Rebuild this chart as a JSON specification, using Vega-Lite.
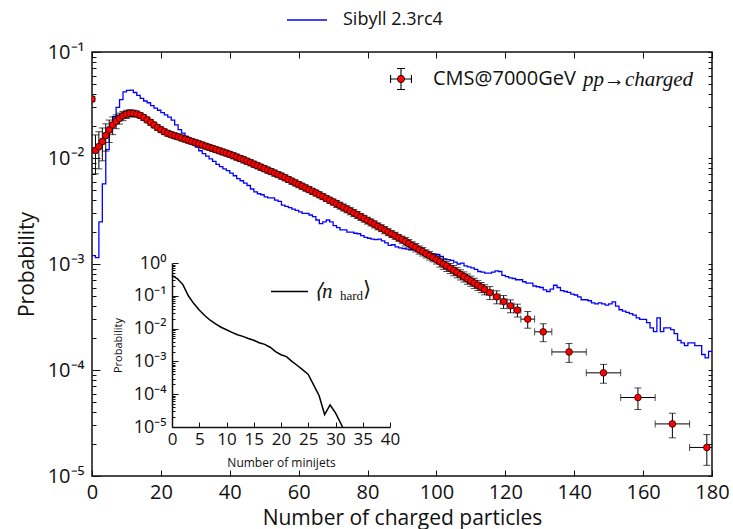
{
"$schema": "https://vega.github.io/schema/vega-lite/v6.json",
"width": 620, "height": 424,
"autosize": {"type": "none"},
"padding": {"left": 92, "top": 52, "right": 21, "bottom": 53},
"background": "white",
"config": {"view": {"stroke": "#111", "strokeWidth": 1.5}, "font": "Open Sans", "axis": {"grid": false, "labelColor": "#111", "titleColor": "#111", "tickColor": "#111", "domainColor": "#111", "titleFontWeight": "normal", "labelFlush": false, "labelOverlap": false}, "legend": {"padding": 0, "labelColor": "#111"}},
"datasets": {
"cms": [
{"x":0,"y":0.036,"ylo":0.0342,"yhi":0.0378,"xlo":-0.5,"xhi":0.5},
{"x":1,"y":0.0118,"ylo":0.0071,"yhi":0.0165,"xlo":0.5,"xhi":1.5},
{"x":2,"y":0.0128,"ylo":0.0079,"yhi":0.0177,"xlo":1.5,"xhi":2.5},
{"x":3,"y":0.0143,"ylo":0.0094,"yhi":0.0192,"xlo":2.5,"xhi":3.5},
{"x":4,"y":0.0163,"ylo":0.0116,"yhi":0.0210,"xlo":3.5,"xhi":4.5},
{"x":5,"y":0.0184,"ylo":0.0140,"yhi":0.0228,"xlo":4.5,"xhi":5.5},
{"x":6,"y":0.0205,"ylo":0.0166,"yhi":0.0244,"xlo":5.5,"xhi":6.5},
{"x":7,"y":0.0222,"ylo":0.0189,"yhi":0.0255,"xlo":6.5,"xhi":7.5},
{"x":8,"y":0.0237,"ylo":0.0209,"yhi":0.0265,"xlo":7.5,"xhi":8.5},
{"x":9,"y":0.0250,"ylo":0.0225,"yhi":0.0275,"xlo":8.5,"xhi":9.5},
{"x":10,"y":0.0259,"ylo":0.0236,"yhi":0.0282,"xlo":9.5,"xhi":10.5},
{"x":11,"y":0.0264,"ylo":0.0243,"yhi":0.0285,"xlo":10.5,"xhi":11.5},
{"x":12,"y":0.0264,"ylo":0.0246,"yhi":0.0282,"xlo":11.5,"xhi":12.5},
{"x":13,"y":0.0260,"ylo":0.0243,"yhi":0.0277,"xlo":12.5,"xhi":13.5},
{"x":14,"y":0.0252,"ylo":0.0237,"yhi":0.0267,"xlo":13.5,"xhi":14.5},
{"x":15,"y":0.0241,"ylo":0.02265,"yhi":0.02555,"xlo":14.5,"xhi":15.5},
{"x":16,"y":0.0229,"ylo":0.02153,"yhi":0.02427,"xlo":15.5,"xhi":16.5},
{"x":17,"y":0.0217,"ylo":0.02040,"yhi":0.02300,"xlo":16.5,"xhi":17.5},
{"x":18,"y":0.0205,"ylo":0.01927,"yhi":0.02173,"xlo":17.5,"xhi":18.5},
{"x":19,"y":0.0194,"ylo":0.01824,"yhi":0.02056,"xlo":18.5,"xhi":19.5},
{"x":20,"y":0.0185,"ylo":0.01739,"yhi":0.01961,"xlo":19.5,"xhi":20.5},
{"x":21,"y":0.0177,"ylo":0.01664,"yhi":0.01876,"xlo":20.5,"xhi":21.5},
{"x":22,"y":0.0171,"ylo":0.01607,"yhi":0.01813,"xlo":21.5,"xhi":22.5},
{"x":23,"y":0.0166,"ylo":0.01560,"yhi":0.01760,"xlo":22.5,"xhi":23.5},
{"x":24,"y":0.0162,"ylo":0.01523,"yhi":0.01717,"xlo":23.5,"xhi":24.5},
{"x":25,"y":0.01585,"ylo":0.01490,"yhi":0.01680,"xlo":24.5,"xhi":25.5},
{"x":26,"y":0.01545,"ylo":0.01452,"yhi":0.01638,"xlo":25.5,"xhi":26.5},
{"x":27,"y":0.01507,"ylo":0.01417,"yhi":0.01597,"xlo":26.5,"xhi":27.5},
{"x":28,"y":0.01469,"ylo":0.01381,"yhi":0.01557,"xlo":27.5,"xhi":28.5},
{"x":29,"y":0.01432,"ylo":0.01346,"yhi":0.01518,"xlo":28.5,"xhi":29.5},
{"x":30,"y":0.01396,"ylo":0.01312,"yhi":0.01480,"xlo":29.5,"xhi":30.5},
{"x":31,"y":0.01361,"ylo":0.01279,"yhi":0.01443,"xlo":30.5,"xhi":31.5},
{"x":32,"y":0.01327,"ylo":0.01247,"yhi":0.01407,"xlo":31.5,"xhi":32.5},
{"x":33,"y":0.01294,"ylo":0.01216,"yhi":0.01372,"xlo":32.5,"xhi":33.5},
{"x":34,"y":0.01262,"ylo":0.01186,"yhi":0.01338,"xlo":33.5,"xhi":34.5},
{"x":35,"y":0.01230,"ylo":0.01156,"yhi":0.01304,"xlo":34.5,"xhi":35.5},
{"x":36,"y":0.01199,"ylo":0.01127,"yhi":0.01271,"xlo":35.5,"xhi":36.5},
{"x":37,"y":0.01169,"ylo":0.01099,"yhi":0.01239,"xlo":36.5,"xhi":37.5},
{"x":38,"y":0.01140,"ylo":0.01072,"yhi":0.01208,"xlo":37.5,"xhi":38.5},
{"x":39,"y":0.01112,"ylo":0.01045,"yhi":0.01179,"xlo":38.5,"xhi":39.5},
{"x":40,"y":0.01084,"ylo":0.01019,"yhi":0.01149,"xlo":39.5,"xhi":40.5},
{"x":41,"y":0.01052,"ylo":0.00984,"yhi":0.01120,"xlo":40.5,"xhi":41.5},
{"x":42,"y":0.01021,"ylo":0.00955,"yhi":0.01087,"xlo":41.5,"xhi":42.5},
{"x":43,"y":0.00991,"ylo":0.00927,"yhi":0.01055,"xlo":42.5,"xhi":43.5},
{"x":44,"y":0.00962,"ylo":0.00899,"yhi":0.01025,"xlo":43.5,"xhi":44.5},
{"x":45,"y":0.00933,"ylo":0.00872,"yhi":0.00994,"xlo":44.5,"xhi":45.5},
{"x":46,"y":0.00904,"ylo":0.00845,"yhi":0.00963,"xlo":45.5,"xhi":46.5},
{"x":47,"y":0.00875,"ylo":0.00818,"yhi":0.00932,"xlo":46.5,"xhi":47.5},
{"x":48,"y":0.00847,"ylo":0.00792,"yhi":0.00902,"xlo":47.5,"xhi":48.5},
{"x":49,"y":0.00820,"ylo":0.00767,"yhi":0.00873,"xlo":48.5,"xhi":49.5},
{"x":50,"y":0.00794,"ylo":0.00742,"yhi":0.00846,"xlo":49.5,"xhi":50.5},
{"x":51,"y":0.00769,"ylo":0.00719,"yhi":0.00819,"xlo":50.5,"xhi":51.5},
{"x":52,"y":0.00745,"ylo":0.00697,"yhi":0.00793,"xlo":51.5,"xhi":52.5},
{"x":53,"y":0.00721,"ylo":0.00674,"yhi":0.00768,"xlo":52.5,"xhi":53.5},
{"x":54,"y":0.00698,"ylo":0.00653,"yhi":0.00743,"xlo":53.5,"xhi":54.5},
{"x":55,"y":0.00676,"ylo":0.00632,"yhi":0.00720,"xlo":54.5,"xhi":55.5},
{"x":56,"y":0.00652,"ylo":0.00610,"yhi":0.00694,"xlo":55.5,"xhi":56.5},
{"x":57,"y":0.00628,"ylo":0.00587,"yhi":0.00669,"xlo":56.5,"xhi":57.5},
{"x":58,"y":0.00605,"ylo":0.00566,"yhi":0.00644,"xlo":57.5,"xhi":58.5},
{"x":59,"y":0.00583,"ylo":0.00545,"yhi":0.00621,"xlo":58.5,"xhi":59.5},
{"x":60,"y":0.00562,"ylo":0.00525,"yhi":0.00599,"xlo":59.5,"xhi":60.5},
{"x":61,"y":0.00542,"ylo":0.00507,"yhi":0.00577,"xlo":60.5,"xhi":61.5},
{"x":62,"y":0.00522,"ylo":0.00488,"yhi":0.00556,"xlo":61.5,"xhi":62.5},
{"x":63,"y":0.00504,"ylo":0.00471,"yhi":0.00537,"xlo":62.5,"xhi":63.5},
{"x":64,"y":0.00485,"ylo":0.00453,"yhi":0.00517,"xlo":63.5,"xhi":64.5},
{"x":65,"y":0.00468,"ylo":0.00438,"yhi":0.00498,"xlo":64.5,"xhi":65.5},
{"x":66,"y":0.00450,"ylo":0.00421,"yhi":0.00479,"xlo":65.5,"xhi":66.5},
{"x":67,"y":0.00433,"ylo":0.00405,"yhi":0.00461,"xlo":66.5,"xhi":67.5},
{"x":68,"y":0.00416,"ylo":0.00389,"yhi":0.00443,"xlo":67.5,"xhi":68.5},
{"x":69,"y":0.00400,"ylo":0.00374,"yhi":0.00426,"xlo":68.5,"xhi":69.5},
{"x":70,"y":0.00385,"ylo":0.00360,"yhi":0.00410,"xlo":69.5,"xhi":70.5},
{"x":71,"y":0.00370,"ylo":0.00342,"yhi":0.00398,"xlo":70.5,"xhi":71.5},
{"x":72,"y":0.00356,"ylo":0.00329,"yhi":0.00383,"xlo":71.5,"xhi":72.5},
{"x":73,"y":0.00342,"ylo":0.00316,"yhi":0.00368,"xlo":72.5,"xhi":73.5},
{"x":74,"y":0.00329,"ylo":0.00304,"yhi":0.00354,"xlo":73.5,"xhi":74.5},
{"x":75,"y":0.00316,"ylo":0.00292,"yhi":0.00340,"xlo":74.5,"xhi":75.5},
{"x":76,"y":0.00303,"ylo":0.00280,"yhi":0.00326,"xlo":75.5,"xhi":76.5},
{"x":77,"y":0.00291,"ylo":0.00269,"yhi":0.00313,"xlo":76.5,"xhi":77.5},
{"x":78,"y":0.00279,"ylo":0.00258,"yhi":0.00300,"xlo":77.5,"xhi":78.5},
{"x":79,"y":0.00268,"ylo":0.00248,"yhi":0.00288,"xlo":78.5,"xhi":79.5},
{"x":80,"y":0.00257,"ylo":0.00238,"yhi":0.00276,"xlo":79.5,"xhi":80.5},
{"x":81,"y":0.00247,"ylo":0.00228,"yhi":0.00266,"xlo":80.5,"xhi":81.5},
{"x":82,"y":0.00237,"ylo":0.00219,"yhi":0.00255,"xlo":81.5,"xhi":82.5},
{"x":83,"y":0.00227,"ylo":0.00210,"yhi":0.00244,"xlo":82.5,"xhi":83.5},
{"x":84,"y":0.00218,"ylo":0.00202,"yhi":0.00234,"xlo":83.5,"xhi":84.5},
{"x":85,"y":0.00209,"ylo":0.00193,"yhi":0.00225,"xlo":84.5,"xhi":85.5},
{"x":86,"y":0.00200,"ylo":0.00185,"yhi":0.00215,"xlo":85.5,"xhi":86.5},
{"x":87,"y":0.00192,"ylo":0.00178,"yhi":0.00206,"xlo":86.5,"xhi":87.5},
{"x":88,"y":0.00185,"ylo":0.00171,"yhi":0.00199,"xlo":87.5,"xhi":88.5},
{"x":89,"y":0.00177,"ylo":0.00164,"yhi":0.00190,"xlo":88.5,"xhi":89.5},
{"x":90,"y":0.00170,"ylo":0.00157,"yhi":0.00183,"xlo":89.5,"xhi":90.5},
{"x":91,"y":0.00163,"ylo":0.00148,"yhi":0.00178,"xlo":90.5,"xhi":91.5},
{"x":92,"y":0.00156,"ylo":0.00142,"yhi":0.00170,"xlo":91.5,"xhi":92.5},
{"x":93,"y":0.00149,"ylo":0.00136,"yhi":0.00162,"xlo":92.5,"xhi":93.5},
{"x":94,"y":0.00143,"ylo":0.00130,"yhi":0.00156,"xlo":93.5,"xhi":94.5},
{"x":95,"y":0.00136,"ylo":0.00124,"yhi":0.00148,"xlo":94.5,"xhi":95.5},
{"x":96,"y":0.00131,"ylo":0.00119,"yhi":0.00143,"xlo":95.5,"xhi":96.5},
{"x":97,"y":0.00125,"ylo":0.00114,"yhi":0.00136,"xlo":96.5,"xhi":97.5},
{"x":98,"y":0.00120,"ylo":0.00109,"yhi":0.00131,"xlo":97.5,"xhi":98.5},
{"x":99,"y":0.00115,"ylo":0.00105,"yhi":0.00125,"xlo":98.5,"xhi":99.5},
{"x":100,"y":0.00110,"ylo":0.00100,"yhi":0.00120,"xlo":99.5,"xhi":100.5},
{"x":101,"y":0.00105,"ylo":0.000935,"yhi":0.001166,"xlo":100.5,"xhi":101.5},
{"x":102,"y":0.00100,"ylo":0.00089,"yhi":0.00111,"xlo":101.5,"xhi":102.5},
{"x":103,"y":0.000955,"ylo":0.000850,"yhi":0.001060,"xlo":102.5,"xhi":103.5},
{"x":104,"y":0.000912,"ylo":0.000812,"yhi":0.001012,"xlo":103.5,"xhi":104.5},
{"x":105,"y":0.000871,"ylo":0.000775,"yhi":0.000967,"xlo":104.5,"xhi":105.5},
{"x":106,"y":0.000832,"ylo":0.000740,"yhi":0.000924,"xlo":105.5,"xhi":106.5},
{"x":107,"y":0.000794,"ylo":0.000707,"yhi":0.000881,"xlo":106.5,"xhi":107.5},
{"x":108,"y":0.000759,"ylo":0.000676,"yhi":0.000842,"xlo":107.5,"xhi":108.5},
{"x":109,"y":0.000724,"ylo":0.000644,"yhi":0.000804,"xlo":108.5,"xhi":109.5},
{"x":110,"y":0.000692,"ylo":0.000616,"yhi":0.000768,"xlo":109.5,"xhi":110.5},
{"x":111,"y":0.000661,"ylo":0.000588,"yhi":0.000734,"xlo":110.5,"xhi":111.5},
{"x":112,"y":0.000631,"ylo":0.000562,"yhi":0.000700,"xlo":111.5,"xhi":112.5},
{"x":113,"y":0.000603,"ylo":0.000537,"yhi":0.000669,"xlo":112.5,"xhi":113.5},
{"x":114,"y":0.000575,"ylo":0.000512,"yhi":0.000638,"xlo":113.5,"xhi":114.5},
{"x":115.5,"y":0.000537,"ylo":0.000462,"yhi":0.000612,"xlo":114.5,"xhi":116.5},
{"x":117.5,"y":0.000490,"ylo":0.000421,"yhi":0.000559,"xlo":116.5,"xhi":118.5},
{"x":119.5,"y":0.000442,"ylo":0.000380,"yhi":0.000504,"xlo":118.5,"xhi":120.5},
{"x":121.5,"y":0.000403,"ylo":0.000347,"yhi":0.000459,"xlo":120.5,"xhi":122.5},
{"x":123.5,"y":0.000367,"ylo":0.000316,"yhi":0.000418,"xlo":122.5,"xhi":124.5},
{"x":126.5,"y":0.000302,"ylo":0.000248,"yhi":0.000356,"xlo":124.5,"xhi":128.5},
{"x":131,"y":0.000229,"ylo":0.000185,"yhi":0.000273,"xlo":128.5,"xhi":133.5},
{"x":138.5,"y":0.000148,"ylo":0.000118,"yhi":0.000178,"xlo":133.5,"xhi":143.5},
{"x":148.5,"y":0.000094,"ylo":0.000075,"yhi":0.000113,"xlo":143.5,"xhi":153.5},
{"x":158.5,"y":0.000055,"ylo":0.0000424,"yhi":0.0000677,"xlo":153.5,"xhi":163.5},
{"x":168.5,"y":0.000031,"ylo":0.0000229,"yhi":0.0000391,"xlo":163.5,"xhi":173.5},
{"x":178.5,"y":0.0000186,"ylo":0.0000126,"yhi":0.0000246,"xlo":173.5,"xhi":183.5}
],
"sib": [
{"x":0,"p":0.0012},{"x":1,"p":0.00115},{"x":2,"p":0.0025},{"x":3,"p":0.0057},{"x":4,"p":0.012},{"x":5,"p":0.0195},{"x":6,"p":0.0245},{"x":7,"p":0.030},{"x":8,"p":0.0355},{"x":9,"p":0.042},
{"x":10,"p":0.0435},{"x":11,"p":0.0437},{"x":12,"p":0.0415},{"x":13,"p":0.039},{"x":14,"p":0.0365},{"x":15,"p":0.0345},{"x":16,"p":0.0332},{"x":17,"p":0.0312},{"x":18,"p":0.0295},{"x":19,"p":0.0282},
{"x":20,"p":0.0268},{"x":21,"p":0.0255},{"x":22,"p":0.0243},{"x":23,"p":0.0228},{"x":24,"p":0.0205},{"x":25,"p":0.0185},{"x":26,"p":0.0172},{"x":27,"p":0.0160},{"x":28,"p":0.0150},{"x":29,"p":0.0137},
{"x":30,"p":0.0127},{"x":31,"p":0.0117},{"x":32,"p":0.0110},{"x":33,"p":0.0104},{"x":34,"p":0.0098},{"x":35,"p":0.0093},{"x":36,"p":0.0087},{"x":37,"p":0.0083},{"x":38,"p":0.0079},{"x":39,"p":0.0076},
{"x":40,"p":0.0072},{"x":41,"p":0.0068},{"x":42,"p":0.0064},{"x":43,"p":0.0061},{"x":44,"p":0.0058},{"x":45,"p":0.0055},{"x":46,"p":0.0051},{"x":47,"p":0.0048},{"x":48,"p":0.0046},{"x":49,"p":0.0045},
{"x":50,"p":0.0043},{"x":51,"p":0.0042},{"x":52,"p":0.0042},{"x":53,"p":0.0040},{"x":54,"p":0.0039},{"x":55,"p":0.0036},{"x":56,"p":0.0035},{"x":57,"p":0.0034},{"x":58,"p":0.0033},{"x":59,"p":0.0032},
{"x":60,"p":0.0031},{"x":61,"p":0.0030},{"x":62,"p":0.0030},{"x":63,"p":0.0029},{"x":64,"p":0.0028},{"x":65,"p":0.0026},{"x":66,"p":0.0024},{"x":67,"p":0.0025},{"x":68,"p":0.0026},{"x":69,"p":0.0025},
{"x":70,"p":0.0023},{"x":71,"p":0.0022},{"x":72,"p":0.0021},{"x":73,"p":0.0021},{"x":74,"p":0.0020},{"x":75,"p":0.0020},{"x":76,"p":0.00195},{"x":77,"p":0.00193},{"x":78,"p":0.00185},{"x":79,"p":0.00178},
{"x":80,"p":0.00175},{"x":81,"p":0.00172},{"x":82,"p":0.00170},{"x":83,"p":0.00172},{"x":84,"p":0.00165},{"x":85,"p":0.00158},{"x":86,"p":0.00150},{"x":87,"p":0.00152},{"x":88,"p":0.00145},{"x":89,"p":0.00142},
{"x":90,"p":0.00140},{"x":91,"p":0.00138},{"x":92,"p":0.00136},{"x":93,"p":0.00137},{"x":94,"p":0.00132},{"x":95,"p":0.00130},{"x":96,"p":0.00128},{"x":97,"p":0.00126},{"x":98,"p":0.00125},{"x":99,"p":0.00124},
{"x":100,"p":0.00123},{"x":101,"p":0.00118},{"x":102,"p":0.00112},{"x":103,"p":0.00110},{"x":104,"p":0.00108},{"x":105,"p":0.00104},{"x":106,"p":0.00100},{"x":107,"p":0.00102},{"x":108,"p":0.00096},{"x":109,"p":0.00094},
{"x":110,"p":0.00092},{"x":111,"p":0.00089},{"x":112,"p":0.00085},{"x":113,"p":0.00084},{"x":114,"p":0.00082},{"x":115,"p":0.00082},{"x":116,"p":0.00084},{"x":117,"p":0.00086},{"x":118,"p":0.00085},{"x":119,"p":0.00078},
{"x":120,"p":0.00076},{"x":121,"p":0.00074},{"x":122,"p":0.00073},{"x":123,"p":0.00071},{"x":124,"p":0.00071},{"x":125,"p":0.00068},{"x":126,"p":0.00066},{"x":127,"p":0.00066},{"x":128,"p":0.00062},{"x":129,"p":0.00061},
{"x":130,"p":0.00060},{"x":131,"p":0.00057},{"x":132,"p":0.00055},{"x":133,"p":0.00058},{"x":134,"p":0.00063},{"x":135,"p":0.00060},{"x":136,"p":0.00056},{"x":137,"p":0.00055},{"x":138,"p":0.00054},{"x":139,"p":0.00052},
{"x":140,"p":0.00051},{"x":141,"p":0.00049},{"x":142,"p":0.00046},{"x":143,"p":0.00046},{"x":144,"p":0.00045},{"x":145,"p":0.00043},{"x":146,"p":0.00042},{"x":147,"p":0.00043},{"x":148,"p":0.00042},{"x":149,"p":0.00041},
{"x":150,"p":0.00042},{"x":151,"p":0.00044},{"x":152,"p":0.00040},{"x":153,"p":0.00037},{"x":154,"p":0.00036},{"x":155,"p":0.00035},{"x":156,"p":0.00034},{"x":157,"p":0.00033},{"x":158,"p":0.00031},{"x":159,"p":0.00030},
{"x":160,"p":0.00030},{"x":161,"p":0.00028},{"x":162,"p":0.00025},{"x":163,"p":0.00023},{"x":164,"p":0.00031},{"x":165,"p":0.00023},{"x":166,"p":0.00025},{"x":167,"p":0.00025},{"x":168,"p":0.00024},{"x":169,"p":0.00022},
{"x":170,"p":0.00019},{"x":171,"p":0.00018},{"x":172,"p":0.00017},{"x":173,"p":0.00018},{"x":174,"p":0.00018},{"x":175,"p":0.00017},{"x":176,"p":0.00017},{"x":177,"p":0.00014},{"x":178,"p":0.00013},{"x":179,"p":0.00015},{"x":180,"p":0.00015}
],
"ins": [
{"n":0,"p":0.42},{"n":1,"p":0.33},{"n":2,"p":0.22},{"n":3,"p":0.10},{"n":4,"p":0.058},{"n":5,"p":0.037},{"n":6,"p":0.025},{"n":7,"p":0.018},{"n":8,"p":0.014},{"n":9,"p":0.011},
{"n":10,"p":0.0092},{"n":11,"p":0.0077},{"n":12,"p":0.0065},{"n":13,"p":0.0058},{"n":14,"p":0.0050},{"n":15,"p":0.0044},{"n":16,"p":0.0037},{"n":17,"p":0.0033},{"n":18,"p":0.0027},{"n":19,"p":0.0020},
{"n":20,"p":0.0016},{"n":21,"p":0.0014},{"n":22,"p":0.0010},{"n":23,"p":0.00075},{"n":24,"p":0.00055},{"n":25,"p":0.00040},{"n":26,"p":0.00019},{"n":27,"p":0.00009},{"n":28,"p":0.000024},{"n":29,"p":0.000047},
{"n":30,"p":0.000027},{"n":31.3,"p":0.00001}
]
},
"layer": [
{
"layer": [
{"data": {"name": "sib"}, "mark": {"type": "line", "interpolate": "step-after", "strokeWidth": 1.3, "clip": true},
 "encoding": {
  "x": {"field": "x", "type": "quantitative", "scale": {"domain": [0, 180], "nice": false, "zero": false},
        "axis": {"values": [0,20,40,60,80,100,120,140,160,180], "title": "Number of charged particles", "titleFontSize": 21, "labelFontSize": 20, "tickSize": -6, "labelPadding": 12, "domain": false, "titlePadding": 5}},
  "y": {"field": "p", "type": "quantitative", "scale": {"type": "log", "domain": [0.00001, 0.1], "nice": false},
        "axis": {"values": [0.00001,0.0001,0.001,0.01,0.1], "labelExpr": "datum.value > 0.05 ? '10⁻¹' : datum.value > 0.005 ? '10⁻²' : datum.value > 0.0005 ? '10⁻³' : datum.value > 0.00005 ? '10⁻⁴' : '10⁻⁵'", "title": "Probability", "titleFontSize": 21, "labelFontSize": 20, "tickSize": -8, "labelPadding": 16, "domain": false, "titlePadding": 10}},
  "stroke": {"datum": "Sibyll 2.3rc4", "scale": {"range": ["#0000ff"]},
        "legend": {"orient": "none", "legendX": 194, "legendY": -53, "title": null, "symbolType": "stroke", "symbolSize": 1600, "symbolStrokeWidth": 1.5, "labelFontSize": 18, "labelOffset": 15}}
 }},
{"data": {"name": "cms"}, "mark": {"type": "rule", "color": "black", "strokeWidth": 1, "clip": true},
 "encoding": {"x": {"field": "x", "type": "quantitative"}, "y": {"field": "ylo", "type": "quantitative"}, "y2": {"field": "yhi"}}},
{"data": {"name": "cms"}, "mark": {"type": "rule", "color": "black", "strokeWidth": 1, "clip": true},
 "encoding": {"x": {"field": "xlo", "type": "quantitative"}, "x2": {"field": "xhi"}, "y": {"field": "y", "type": "quantitative"}}},
{"data": {"name": "cms"}, "mark": {"type": "tick", "orient": "horizontal", "size": 7, "thickness": 1, "color": "black", "clip": true},
 "encoding": {"x": {"field": "x", "type": "quantitative"}, "y": {"field": "ylo", "type": "quantitative"}}},
{"data": {"name": "cms"}, "mark": {"type": "tick", "orient": "horizontal", "size": 7, "thickness": 1, "color": "black", "clip": true},
 "encoding": {"x": {"field": "x", "type": "quantitative"}, "y": {"field": "yhi", "type": "quantitative"}}},
{"data": {"name": "cms"}, "mark": {"type": "tick", "orient": "vertical", "size": 7, "thickness": 1, "color": "black", "clip": true},
 "encoding": {"x": {"field": "xlo", "type": "quantitative"}, "y": {"field": "y", "type": "quantitative"}}},
{"data": {"name": "cms"}, "mark": {"type": "tick", "orient": "vertical", "size": 7, "thickness": 1, "color": "black", "clip": true},
 "encoding": {"x": {"field": "xhi", "type": "quantitative"}, "y": {"field": "y", "type": "quantitative"}}},
{"data": {"name": "cms"}, "mark": {"type": "circle", "size": 45, "fill": "#ff0000", "stroke": "black", "strokeWidth": 0.7, "opacity": 1, "clip": true},
 "encoding": {"x": {"field": "x", "type": "quantitative"}, "y": {"field": "y", "type": "quantitative"}}}
]
},
{"data": {"name": "ins"}, "mark": {"type": "line", "strokeWidth": 1.5},
 "encoding": {
  "x": {"field": "n", "type": "quantitative", "scale": {"domain": [0, 40], "range": [80, 298], "nice": false, "zero": false},
        "axis": {"orient": "bottom", "offset": -49, "values": [0,5,10,15,20,25,30,35,40], "title": "Number of minijets", "titleFontSize": 12, "labelFontSize": 17, "tickSize": -5, "labelPadding": 9, "domainWidth": 1.5, "titlePadding": 10}},
  "y": {"field": "p", "type": "quantitative", "scale": {"type": "log", "domain": [0.00001, 1], "range": [375, 211], "nice": false},
        "axis": {"orient": "left", "offset": -80, "values": [0.00001,0.0001,0.001,0.01,0.1,1], "labelExpr": "datum.value > 0.5 ? '10⁰' : datum.value > 0.05 ? '10⁻¹' : datum.value > 0.005 ? '10⁻²' : datum.value > 0.0005 ? '10⁻³' : datum.value > 0.00005 ? '10⁻⁴' : '10⁻⁵'", "title": "Probability", "titleFontSize": 11, "labelFontSize": 18, "tickSize": -6, "labelPadding": 12, "domainWidth": 1.5, "titlePadding": 10}},
  "color": {"datum": "⟨n", "scale": {"range": ["black"]},
        "legend": {"orient": "none", "legendX": 178, "legendY": 220, "title": null, "symbolType": "stroke", "symbolSize": 1369, "symbolStrokeWidth": 1.5, "labelFontSize": 21, "labelFont": "Liberation Serif", "labelFontStyle": "italic", "labelOffset": 5}}
 }},
{"data": {"name": "ins"}, "mark": {"type": "line", "strokeOpacity": 0},
 "encoding": {
  "x": {"field": "n", "type": "quantitative", "scale": {"domain": [0, 40], "range": [80, 298], "nice": false, "zero": false}, "axis": null},
  "y": {"field": "p", "type": "quantitative", "scale": {"type": "log", "domain": [0.00001, 1], "range": [375, 211], "nice": false},
        "axis": {"orient": "left", "offset": -80, "values": [0.00002,0.00003,0.00004,0.00005,0.00006,0.00007,0.00008,0.00009,0.0002,0.0003,0.0004,0.0005,0.0006,0.0007,0.0008,0.0009,0.002,0.003,0.004,0.005,0.006,0.007,0.008,0.009,0.02,0.03,0.04,0.05,0.06,0.07,0.08,0.09,0.2,0.3,0.4,0.5,0.6,0.7,0.8,0.9], "labels": false, "title": null, "tickSize": -3, "domain": false}}
 }},
{"data": {"name": "sib"}, "mark": {"type": "line", "strokeOpacity": 0},
 "encoding": {
  "x": {"field": "x", "type": "quantitative", "scale": {"domain": [0, 180], "nice": false, "zero": false},
        "axis": {"orient": "top", "values": [0,20,40,60,80,100,120,140,160,180], "labels": false, "title": null, "tickSize": -6, "domain": false}},
  "y": {"field": "p", "type": "quantitative", "scale": {"type": "log", "domain": [0.00001, 0.1], "nice": false},
        "axis": {"orient": "right", "values": [0.00001,0.00002,0.00003,0.00004,0.00005,0.00006,0.00007,0.00008,0.00009,0.0001,0.0002,0.0003,0.0004,0.0005,0.0006,0.0007,0.0008,0.0009,0.001,0.002,0.003,0.004,0.005,0.006,0.007,0.008,0.009,0.01,0.02,0.03,0.04,0.05,0.06,0.07,0.08,0.09,0.1], "labels": false, "title": null, "tickSize": -4, "domain": false}}
 }},
{"data": {"name": "sib"}, "mark": {"type": "line", "strokeOpacity": 0},
 "encoding": {
  "x": {"field": "x", "type": "quantitative", "scale": {"domain": [0, 180], "nice": false, "zero": false}, "axis": null},
  "y": {"field": "p", "type": "quantitative", "scale": {"type": "log", "domain": [0.00001, 0.1], "nice": false},
        "axis": {"orient": "left", "values": [0.00002,0.00003,0.00004,0.00005,0.00006,0.00007,0.00008,0.00009,0.0002,0.0003,0.0004,0.0005,0.0006,0.0007,0.0008,0.0009,0.002,0.003,0.004,0.005,0.006,0.007,0.008,0.009,0.02,0.03,0.04,0.05,0.06,0.07,0.08,0.09], "labels": false, "title": null, "tickSize": -4, "domain": false}}
 }},
{"data": {"values": [{}]}, "mark": {"type": "point", "opacity": 0, "filled": true, "fill": "black"},
 "encoding": {
  "shape": {"datum": "CMS@7000GeV", "scale": {"range": ["M-1,-0.05H1V0.05H-1ZM-0.05,-1H0.05V1H-0.05ZM-1,-0.36H-0.9V0.36H-1ZM0.9,-0.36H1V0.36H0.9ZM-0.36,-1H0.36V-0.9H-0.36ZM-0.36,0.9H0.36V1H-0.36Z"]},
     "legend": {"orient": "none", "legendX": 298, "legendY": 16, "title": null, "symbolSize": 484, "symbolOpacity": 1, "symbolFillColor": "black", "symbolStrokeWidth": 0, "labelFontSize": 20, "labelOffset": 21}}
 }},
{"data": {"values": [{}]}, "mark": {"type": "point", "opacity": 0, "filled": true, "fill": "black"},
 "encoding": {
  "shape": {"datum": "cms-dot-edge", "scale": {"range": ["M0.36,0A0.36,0.36,0,1,1,-0.36,0A0.36,0.36,0,1,1,0.36,0Z"]},
     "legend": {"orient": "none", "legendX": 298, "legendY": 16, "title": null, "symbolSize": 484, "symbolOpacity": 1, "symbolFillColor": "black", "symbolStrokeWidth": 0, "labelExpr": "''", "labelFontSize": 20, "labelOffset": 21}}
 }},
{"data": {"values": [{}]}, "mark": {"type": "point", "opacity": 0, "filled": true, "fill": "#ff0000"},
 "encoding": {
  "shape": {"datum": "cms-dot", "scale": {"range": ["M0.29,0A0.29,0.29,0,1,1,-0.29,0A0.29,0.29,0,1,1,0.29,0Z"]},
     "legend": {"orient": "none", "legendX": 298, "legendY": 16, "title": null, "symbolSize": 484, "symbolOpacity": 1, "symbolFillColor": "#ff0000", "symbolStrokeWidth": 0, "labelExpr": "''", "labelFontSize": 20, "labelOffset": 21}}
 }},
{"data": {"values": [{}]}, "mark": {"type": "point", "opacity": 0},
 "encoding": {"shape": {"datum": "pp→charged", "legend": {"orient": "none", "legendX": 470, "legendY": 17, "title": null, "symbolSize": 0, "symbolOpacity": 0, "labelFontSize": 21, "labelFont": "Liberation Serif", "labelFontStyle": "italic", "labelOffset": 0}}}},
{"data": {"values": [{}]}, "mark": {"type": "point", "opacity": 0},
 "encoding": {"shape": {"datum": "hard", "legend": {"orient": "none", "legendX": 235, "legendY": 237, "title": null, "symbolSize": 0, "symbolOpacity": 0, "labelFontSize": 13, "labelFont": "Liberation Serif", "labelOffset": 0}}}},
{"data": {"values": [{}]}, "mark": {"type": "point", "opacity": 0},
 "encoding": {"shape": {"datum": "⟩", "legend": {"orient": "none", "legendX": 250, "legendY": 227, "title": null, "symbolSize": 0, "symbolOpacity": 0, "labelFontSize": 21, "labelFont": "Liberation Serif", "labelOffset": 0}}}}
],
"resolve": {"scale": {"x": "independent", "y": "independent", "color": "independent", "stroke": "independent", "fill": "independent", "shape": "independent"}, "legend": {"color": "independent", "stroke": "independent", "fill": "independent", "shape": "independent"}}
}
